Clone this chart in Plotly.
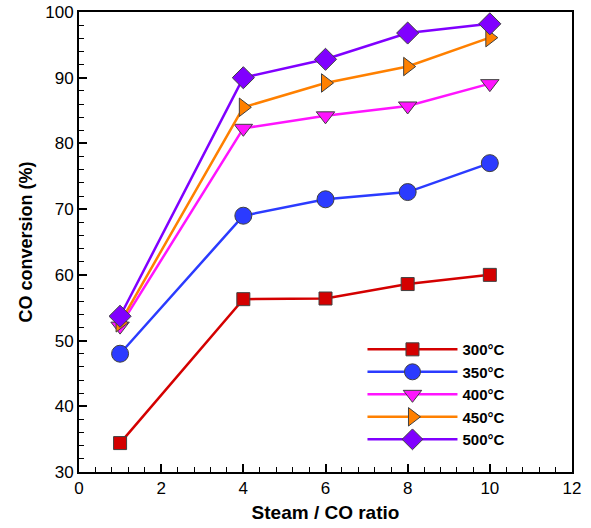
import plotly.graph_objects as go

ratio = [1, 4, 6, 8, 10]
conv_300 = [34.4, 56.3, 56.4, 58.6, 60.0]
conv_350 = [48.0, 69.0, 71.5, 72.6, 77.0]
conv_400 = [52.2, 82.3, 84.2, 85.7, 89.1]
conv_450 = [52.7, 85.5, 89.2, 91.7, 96.1]
conv_500 = [53.7, 90.0, 92.8, 96.8, 98.2]

series = [
    ("300°C", conv_300, "#D40000", "square", 13),
    ("350°C", conv_350, "#2B3BFF", "circle", 17),
    ("400°C", conv_400, "#FF14FF", "triangle-down", 16),
    ("450°C", conv_450, "#FF8000", "triangle-right", 16),
    ("500°C", conv_500, "#8000FF", "diamond", 17),
]

fig = go.Figure()
for name, vals, color, sym, size in series:
    fig.add_trace(go.Scatter(
        x=ratio, y=vals, name=name, mode="lines+markers",
        line=dict(color=color, width=2.5),
        marker=dict(symbol=sym, size=size, color=color,
                    line=dict(color="#404040", width=1)),
    ))

font_family = "Liberation Sans, Arial, sans-serif"
fig.update_layout(
    width=591, height=528,
    margin=dict(l=79, r=19, t=12, b=56),
    plot_bgcolor="white", paper_bgcolor="white",
    font=dict(family=font_family, size=17, color="black"),
    showlegend=True,
    legend=dict(
        x=0.575, y=0.302, xanchor="left", yanchor="top",
        bgcolor="rgba(0,0,0,0)",
        font=dict(size=15, family=font_family, weight="bold"),
        tracegroupgap=0, itemwidth=90,
    ),
)
fig.update_xaxes(
    range=[0, 12], tick0=0, dtick=2, automargin=False,
    showline=True, linecolor="black", linewidth=2, mirror=True,
    ticks="inside", ticklen=8, tickwidth=2, tickcolor="black",
    minor=dict(ticks="inside", ticklen=5, tickwidth=1, dtick=0.4, tickcolor="black"),
    showgrid=False, zeroline=False,
    title=dict(text="<b>Steam / CO ratio</b>", font=dict(size=19), standoff=8),
    tickfont=dict(size=17),
)
fig.update_yaxes(
    range=[30, 100], tick0=30, dtick=10, automargin=False,
    showline=True, linecolor="black", linewidth=2, mirror=True,
    ticks="inside", ticklen=8, tickwidth=2, tickcolor="black",
    minor=dict(ticks="inside", ticklen=5, tickwidth=1, dtick=2, tickcolor="black"),
    showgrid=False, zeroline=False,
    title=dict(text="<b>CO conversion (%)</b>", font=dict(size=18), standoff=8),
    tickfont=dict(size=17),
)

fig.write_html("out.html")
